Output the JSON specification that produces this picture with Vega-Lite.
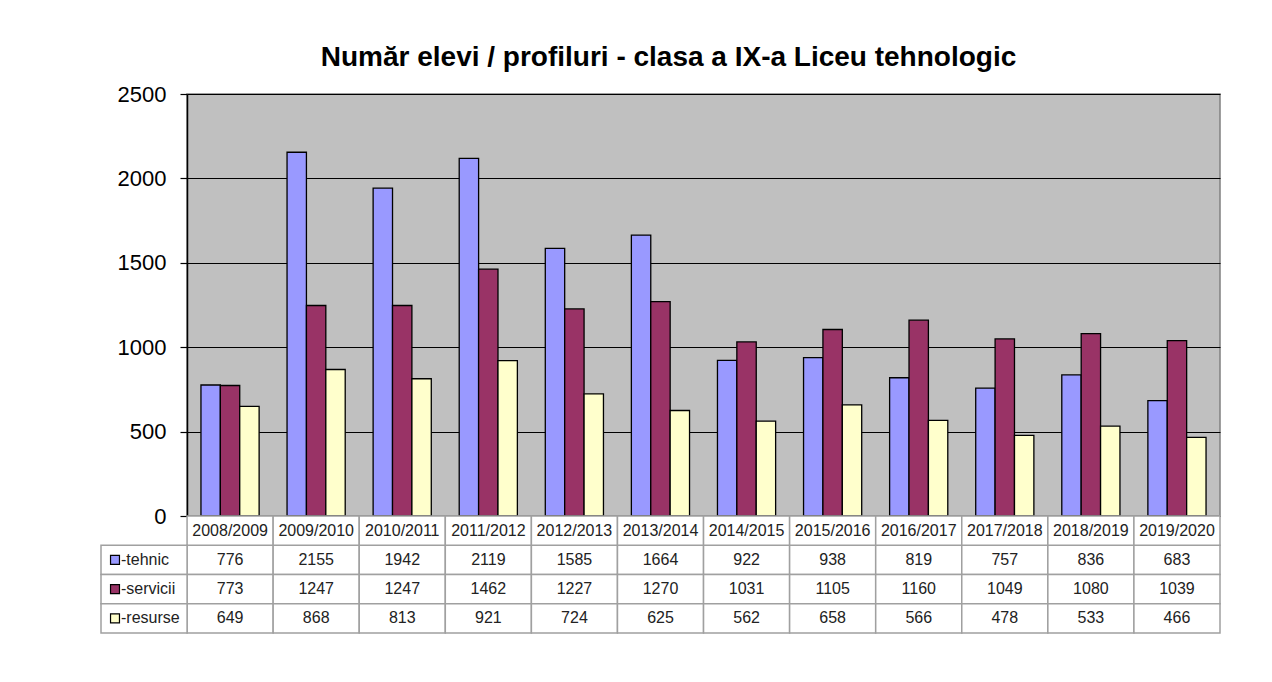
{
  "$schema": "https://vega.github.io/schema/vega-lite/v6.json",
  "background": "white",
  "padding": {"left": 100, "top": 44, "right": 0, "bottom": 0},
  "bounds": "flush",
  "config": {
    "font": "Liberation Sans",
    "view": {"stroke": null},
    "concat": {"spacing": 0}
  },
  "title": {
    "text": "Număr elevi / profiluri - clasa a IX-a Liceu tehnologic",
    "fontSize": 28,
    "fontWeight": "bold",
    "font": "Liberation Sans",
    "color": "black",
    "anchor": "middle",
    "offset": 10,
    "dx": 8
  },
  "datasets": {
    "values": [
      {"year": "2008/2009", "series": "tehnic", "value": 776},
      {"year": "2009/2010", "series": "tehnic", "value": 2155},
      {"year": "2010/2011", "series": "tehnic", "value": 1942},
      {"year": "2011/2012", "series": "tehnic", "value": 2119},
      {"year": "2012/2013", "series": "tehnic", "value": 1585},
      {"year": "2013/2014", "series": "tehnic", "value": 1664},
      {"year": "2014/2015", "series": "tehnic", "value": 922},
      {"year": "2015/2016", "series": "tehnic", "value": 938},
      {"year": "2016/2017", "series": "tehnic", "value": 819},
      {"year": "2017/2018", "series": "tehnic", "value": 757},
      {"year": "2018/2019", "series": "tehnic", "value": 836},
      {"year": "2019/2020", "series": "tehnic", "value": 683},
      {"year": "2008/2009", "series": "servicii", "value": 773},
      {"year": "2009/2010", "series": "servicii", "value": 1247},
      {"year": "2010/2011", "series": "servicii", "value": 1247},
      {"year": "2011/2012", "series": "servicii", "value": 1462},
      {"year": "2012/2013", "series": "servicii", "value": 1227},
      {"year": "2013/2014", "series": "servicii", "value": 1270},
      {"year": "2014/2015", "series": "servicii", "value": 1031},
      {"year": "2015/2016", "series": "servicii", "value": 1105},
      {"year": "2016/2017", "series": "servicii", "value": 1160},
      {"year": "2017/2018", "series": "servicii", "value": 1049},
      {"year": "2018/2019", "series": "servicii", "value": 1080},
      {"year": "2019/2020", "series": "servicii", "value": 1039},
      {"year": "2008/2009", "series": "resurse", "value": 649},
      {"year": "2009/2010", "series": "resurse", "value": 868},
      {"year": "2010/2011", "series": "resurse", "value": 813},
      {"year": "2011/2012", "series": "resurse", "value": 921},
      {"year": "2012/2013", "series": "resurse", "value": 724},
      {"year": "2013/2014", "series": "resurse", "value": 625},
      {"year": "2014/2015", "series": "resurse", "value": 562},
      {"year": "2015/2016", "series": "resurse", "value": 658},
      {"year": "2016/2017", "series": "resurse", "value": 566},
      {"year": "2017/2018", "series": "resurse", "value": 478},
      {"year": "2018/2019", "series": "resurse", "value": 533},
      {"year": "2019/2020", "series": "resurse", "value": 466}
    ],
    "years": [
      {"year": "2008/2009"}, {"year": "2009/2010"}, {"year": "2010/2011"},
      {"year": "2011/2012"}, {"year": "2012/2013"}, {"year": "2013/2014"},
      {"year": "2014/2015"}, {"year": "2015/2016"}, {"year": "2016/2017"},
      {"year": "2017/2018"}, {"year": "2018/2019"}, {"year": "2019/2020"}
    ],
    "legend": [
      {"series": "tehnic", "label": "-tehnic"},
      {"series": "servicii", "label": "-servicii"},
      {"series": "resurse", "label": "-resurse"}
    ]
  },
  "vconcat": [
    {
      "width": 1033,
      "height": 422,
      "data": {"name": "values"},
      "view": {"fill": "#C0C0C0", "stroke": "#808080", "strokeWidth": 1.5},
      "mark": {"type": "bar", "stroke": "black", "strokeWidth": 1.3},
      "encoding": {
        "x": {
          "field": "year",
          "type": "nominal",
          "sort": null,
          "scale": {"paddingInner": 0, "paddingOuter": 0},
          "axis": null
        },
        "xOffset": {
          "field": "series",
          "type": "nominal",
          "sort": ["tehnic", "servicii", "resurse"],
          "scale": {"paddingInner": 0, "paddingOuter": 0.72}
        },
        "y": {
          "field": "value",
          "type": "quantitative",
          "scale": {"domain": [0, 2500], "nice": false},
          "axis": {
            "title": null,
            "values": [0, 500, 1000, 1500, 2000, 2500],
            "format": "d",
            "grid": true,
            "gridColor": "black",
            "gridOpacity": 1,
            "gridWidth": 1.2,
            "domainColor": "black",
            "domainWidth": 1.5,
            "tickColor": "black",
            "tickSize": 7,
            "tickWidth": 1.2,
            "labelFontSize": 22,
            "labelColor": "black",
            "labelPadding": 14,
            "labelFont": "Liberation Sans"
          }
        },
        "color": {
          "field": "series",
          "type": "nominal",
          "scale": {"domain": ["tehnic", "servicii", "resurse"], "range": ["#9999FF", "#993366", "#FFFFCC"]},
          "legend": null
        }
      }
    },
    {
      "width": 1033,
      "height": 117,
      "layer": [
        {
          "data": {"name": "values"},
          "mark": {"type": "rect", "fill": "white", "stroke": "#A0A0A0", "strokeWidth": 1.5},
          "encoding": {
            "x": {"field": "year", "type": "nominal"},
            "y": {"field": "series", "type": "nominal"}
          }
        },
        {
          "data": {"name": "years"},
          "mark": {"type": "rect", "fill": "white", "stroke": "#A0A0A0", "strokeWidth": 1.5},
          "encoding": {
            "x": {"field": "year", "type": "nominal"},
            "y": {"datum": "header", "type": "nominal"}
          }
        },
        {
          "data": {"name": "legend"},
          "mark": {"type": "rect", "fill": "white", "stroke": "#A0A0A0", "strokeWidth": 1.5},
          "encoding": {
            "x": {"datum": "legend", "type": "nominal"},
            "y": {"field": "series", "type": "nominal"}
          }
        },
        {
          "data": {"name": "values"},
          "mark": {"type": "text", "fontSize": 16, "color": "#222222", "font": "Liberation Sans"},
          "encoding": {
            "x": {"field": "year", "type": "nominal"},
            "y": {"field": "series", "type": "nominal"},
            "text": {"field": "value", "type": "quantitative"}
          }
        },
        {
          "data": {"name": "years"},
          "mark": {"type": "text", "fontSize": 16, "color": "#222222", "font": "Liberation Sans"},
          "encoding": {
            "x": {"field": "year", "type": "nominal"},
            "y": {"datum": "header", "type": "nominal"},
            "text": {"field": "year", "type": "nominal"}
          }
        },
        {
          "data": {"name": "legend"},
          "mark": {"type": "text", "fontSize": 16, "color": "#222222", "align": "left", "dx": 20, "font": "Liberation Sans"},
          "encoding": {
            "x": {"datum": "legend", "type": "nominal", "bandPosition": 0},
            "y": {"field": "series", "type": "nominal"},
            "text": {"field": "label", "type": "nominal"}
          }
        },
        {
          "data": {"name": "legend"},
          "mark": {"type": "point", "shape": "square", "filled": true, "size": 80, "stroke": "black", "strokeWidth": 1.2, "xOffset": 14, "opacity": 1},
          "encoding": {
            "x": {"datum": "legend", "type": "nominal", "bandPosition": 0},
            "y": {"field": "series", "type": "nominal"},
            "fill": {
              "field": "series",
              "type": "nominal",
              "scale": {"domain": ["tehnic", "servicii", "resurse"], "range": ["#9999FF", "#993366", "#FFFFCC"]},
              "legend": null
            }
          }
        }
      ],
      "encoding": {
        "x": {
          "type": "nominal",
          "scale": {
            "domain": ["legend", "2008/2009", "2009/2010", "2010/2011", "2011/2012", "2012/2013", "2013/2014", "2014/2015", "2015/2016", "2016/2017", "2017/2018", "2018/2019", "2019/2020"],
            "range": [-86, 1033],
            "paddingInner": 0,
            "paddingOuter": 0
          },
          "axis": null
        },
        "y": {
          "type": "nominal",
          "scale": {"domain": ["header", "tehnic", "servicii", "resurse"], "paddingInner": 0, "paddingOuter": 0},
          "axis": null
        }
      }
    }
  ]
}
